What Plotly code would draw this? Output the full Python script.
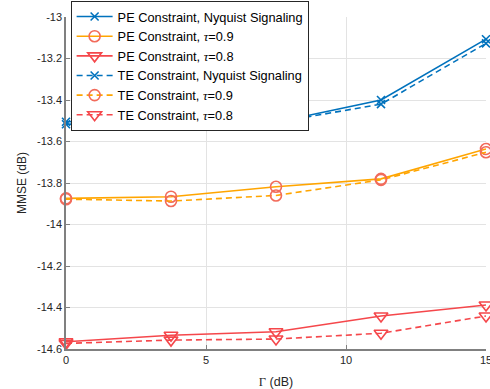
import plotly.graph_objects as go

x = [0, 3.75, 7.5, 11.25, 15]
pe_nyq = [-13.505, -13.500, -13.507, -13.400, -13.107]
pe_09 = [-13.874, -13.866, -13.818, -13.780, -13.636]
pe_08 = [-14.565, -14.534, -14.517, -14.441, -14.388]
te_nyq = [-13.517, -13.503, -13.508, -13.420, -13.127]
te_09 = [-13.878, -13.887, -13.860, -13.785, -13.652]
te_08 = [-14.573, -14.557, -14.552, -14.524, -14.441]

x_ticks = [0, 5, 10, 15]
y_ticks = [-14.6, -14.4, -14.2, -14.0, -13.8, -13.6, -13.4, -13.2, -13.0]
y_tick_labels = ["-14.6", "-14.4", "-14.2", "-14", "-13.8", "-13.6", "-13.4", "-13.2", "-13"]

blue = "#0072BD"
orange = "#FFA500"
red = "#F5474B"
salmon = "#F26B5B"

tau = "<span style='font-family:Liberation Serif;font-style:italic'>τ</span>"
series = [
    ("PE Constraint, Nyquist Signaling", pe_nyq, blue, "solid", "x-thin", blue, 8),
    ("PE Constraint, " + tau + "=0.9", pe_09, orange, "solid", "circle-open", salmon, 11),
    ("PE Constraint, " + tau + "=0.8", pe_08, red, "solid", "triangle-down-open", red, 12),
    ("TE Constraint, Nyquist Signaling", te_nyq, blue, "dash", "x-thin", blue, 8),
    ("TE Constraint, " + tau + "=0.9", te_09, orange, "dash", "circle-open", salmon, 11),
    ("TE Constraint, " + tau + "=0.8", te_08, red, "dash", "triangle-down-open", red, 12),
]

fig = go.Figure()
for name, y, lc, dash, sym, mc, ms in series:
    fig.add_trace(go.Scatter(
        x=x, y=y, name=name, mode="lines+markers",
        line=dict(color=lc, width=1.6, dash=dash if dash == "solid" else "6px,4px"),
        marker=dict(symbol=sym, color=mc, size=ms, line=dict(color=mc, width=1.6)),
        cliponaxis=False,
    ))

axis_common = dict(
    showgrid=True, gridcolor="#E3E3E3", gridwidth=1,
    showline=True, linecolor="#808080", linewidth=1.5,
    ticks="inside", ticklen=4, tickcolor="#808080",
    tickfont=dict(family="Liberation Sans, Arial", size=11, color="#262626"),
    zeroline=False, ticklabeloverflow="allow", automargin=False,
)

fig.update_layout(
    width=490, height=389,
    margin=dict(l=66, r=4, t=17, b=40, autoexpand=False),
    paper_bgcolor="white", plot_bgcolor="white",
    font=dict(family="Liberation Sans, Arial", size=11, color="#262626"),
    xaxis=dict(range=[0, 15], tickvals=x_ticks, **axis_common,
               title=dict(text="<span style='font-family:Liberation Serif'>Γ</span> (dB)",
                          font=dict(size=12.5), standoff=12)),
    yaxis=dict(range=[-14.6, -13], tickvals=y_ticks, ticktext=y_tick_labels, **axis_common,
               title=dict(text="MMSE (dB)", font=dict(size=12), standoff=8)),
    legend=dict(x=0.011, y=1.049, xanchor="left", yanchor="top",
                bgcolor="white", bordercolor="#262626", borderwidth=1,
                font=dict(size=12.8, color="#000000"),
                tracegroupgap=0, itemwidth=36),
    showlegend=True,
)

fig.write_html("out.html")
